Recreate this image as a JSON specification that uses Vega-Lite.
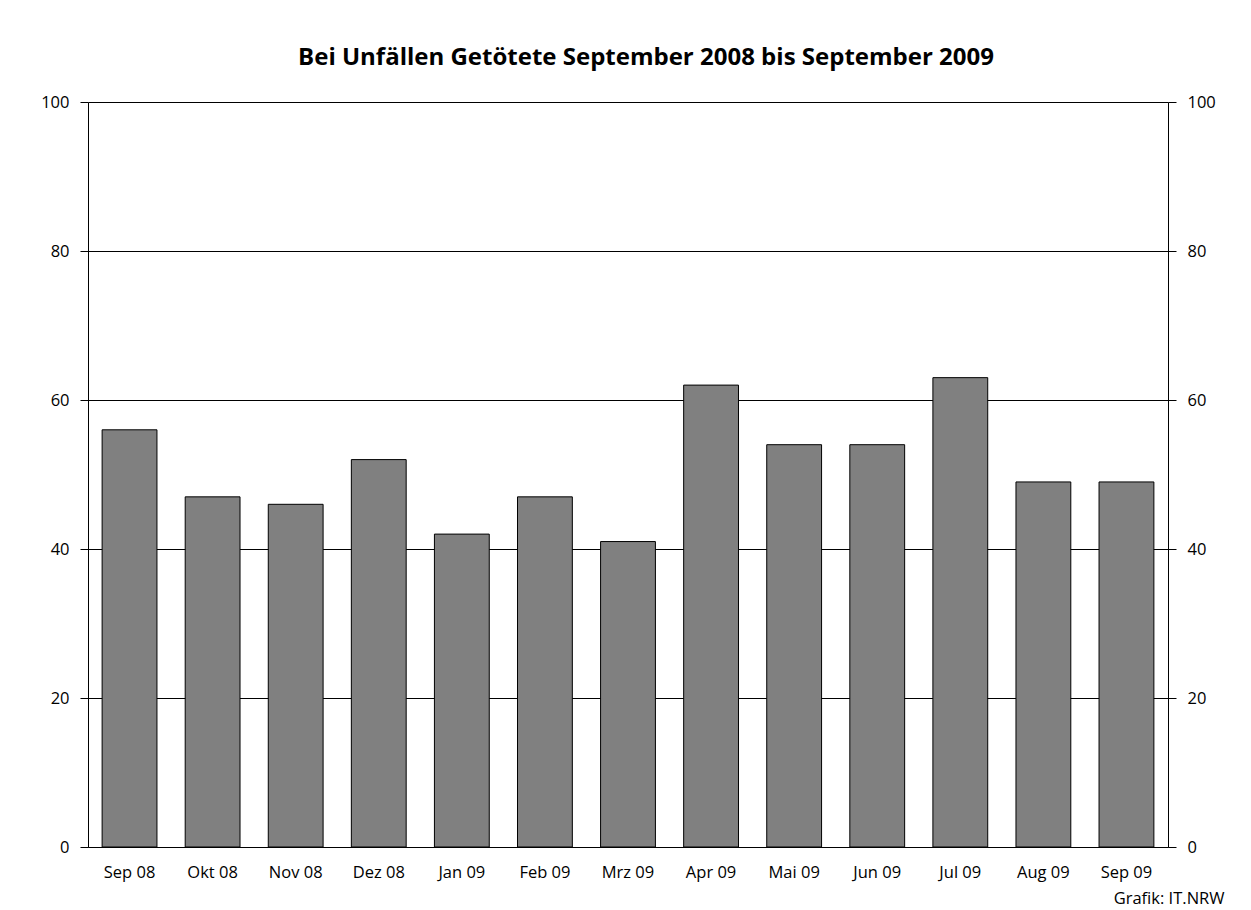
{
  "$schema": "https://vega.github.io/schema/vega-lite/v6.json",
  "width": 1080,
  "height": 745,
  "autosize": {"type": "none"},
  "padding": {"left": 88, "top": 102, "right": 83, "bottom": 63},
  "background": "white",
  "title": {
    "text": "Bei Unfällen Getötete September 2008 bis September 2009",
    "font": "Open Sans",
    "fontSize": 24,
    "fontWeight": "bold",
    "color": "black",
    "anchor": "middle",
    "dx": 18,
    "offset": 24
  },
  "data": {
    "values": [
      {"monat": "Sep 08", "getoetete": 56},
      {"monat": "Okt 08", "getoetete": 47},
      {"monat": "Nov 08", "getoetete": 46},
      {"monat": "Dez 08", "getoetete": 52},
      {"monat": "Jan 09", "getoetete": 42},
      {"monat": "Feb 09", "getoetete": 47},
      {"monat": "Mrz 09", "getoetete": 41},
      {"monat": "Apr 09", "getoetete": 62},
      {"monat": "Mai 09", "getoetete": 54},
      {"monat": "Jun 09", "getoetete": 54},
      {"monat": "Jul 09", "getoetete": 63},
      {"monat": "Aug 09", "getoetete": 49},
      {"monat": "Sep 09", "getoetete": 49}
    ]
  },
  "encoding": {
    "x": {
      "field": "monat",
      "type": "nominal",
      "sort": null,
      "scale": {"paddingInner": 0.34, "paddingOuter": 0.17},
      "axis": {
        "title": "Grafik: IT.NRW",
        "titleFont": "Open Sans",
        "titleFontSize": 16.5,
        "titleFontWeight": "normal",
        "titleColor": "black",
        "titleAnchor": "end",
        "titleAlign": "right",
        "titleBaseline": "alphabetic",
        "titleX": 1136,
        "titleY": 56,
        "labelAngle": 0,
        "labelFont": "Open Sans",
        "labelFontSize": 16.5,
        "labelColor": "black",
        "labelPadding": 17,
        "ticks": false,
        "domain": true,
        "domainColor": "black",
        "domainWidth": 1
      }
    },
    "y": {
      "field": "getoetete",
      "type": "quantitative",
      "scale": {"domain": [0, 100]}
    }
  },
  "layer": [
    {
      "mark": {"type": "bar", "fill": "#808080", "stroke": "black", "strokeWidth": 1},
      "encoding": {
        "y": {
          "field": "getoetete",
          "type": "quantitative",
          "scale": {"domain": [0, 100]},
          "axis": {
            "orient": "left",
            "title": null,
            "values": [0, 20, 40, 60, 80, 100],
            "grid": true,
            "gridColor": "black",
            "gridOpacity": 1,
            "gridWidth": 1,
            "domainColor": "black",
            "tickColor": "black",
            "tickSize": 8,
            "labelFont": "Open Sans",
            "labelFontSize": 16.5,
            "labelColor": "black",
            "labelPadding": 11
          }
        }
      }
    },
    {
      "mark": {"type": "bar", "opacity": 0},
      "encoding": {
        "y": {
          "field": "getoetete",
          "type": "quantitative",
          "scale": {"domain": [0, 100]},
          "axis": {
            "orient": "right",
            "title": null,
            "values": [0, 20, 40, 60, 80, 100],
            "grid": false,
            "domainColor": "black",
            "tickColor": "black",
            "tickSize": 8,
            "labelFont": "Open Sans",
            "labelFontSize": 16.5,
            "labelColor": "black",
            "labelPadding": 11
          }
        }
      }
    }
  ],
  "resolve": {"axis": {"y": "independent"}},
  "config": {"view": {"stroke": null}}
}
